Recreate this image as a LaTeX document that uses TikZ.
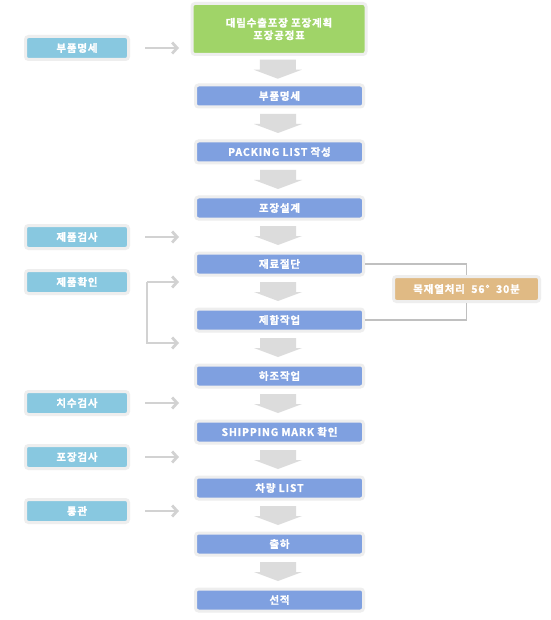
\documentclass[tikz,border=0pt]{standalone}
\usepackage{fontspec}
\setmainfont{Noto Sans CJK KR}
\newfontfamily\boxfont{Noto Sans CJK KR Bold}[LetterSpace=8, FakeBold=1.2]
\usepackage{tikz}
\usetikzlibrary{arrows.meta, calc}

\definecolor{stepblue}{HTML}{7FA0E0}
\definecolor{sideblue}{HTML}{88C8E0}
\definecolor{plangreen}{HTML}{A0D468}
\definecolor{heattan}{HTML}{E0BA84}
\definecolor{glowgray}{HTML}{EEEEEE}
\definecolor{linegray}{HTML}{C0C0C0}
\definecolor{feedgray}{HTML}{D2D2D2}
\definecolor{arrowgray}{HTML}{DCDCDC}

\tikzset{
  boxbase/.style={draw=glowgray, line width=3pt, rounded corners=3pt, text=white,
    font=\boxfont\fontsize{10.5}{12.5}\selectfont, inner sep=0pt, align=center},
  stepbox/.style={boxbase, fill=stepblue, minimum width=168pt, minimum height=22pt},
  checkbox/.style={boxbase, fill=sideblue, minimum width=103pt, minimum height=23pt},
  planbox/.style={boxbase, fill=plangreen, minimum width=174pt, minimum height=51pt},
  heatbox/.style={boxbase, fill=heattan, minimum width=146pt, minimum height=25pt},
  feed/.style={draw=feedgray, line width=2.8pt, -{Straight Barb[length=5pt, width=11pt]}},
  link/.style={draw=linegray, line width=1.5pt}
}

\begin{document}
\begin{tikzpicture}[x=1pt, y=-1pt]
  \useasboundingbox[fill=white] (0,0) rectangle (550,620);

  % Main flow
  \node[planbox]  (s0)  at (279,29)  {대림수출포장 포장계획\\포장공정표};
  \node[stepbox]  (s1)  at (279.5,96)  {부품명세};
  \node[stepbox]  (s2)  at (279.5,152) {PACKING LIST 작성};
  \node[stepbox]  (s3)  at (279.5,208) {포장설계};
  \node[stepbox]  (s4)  at (279.5,264) {재료절단};
  \node[stepbox]  (s5)  at (279.5,320) {제함작업};
  \node[stepbox]  (s6)  at (279.5,376) {하조작업};
  \node[stepbox]  (s7)  at (279.5,432) {SHIPPING MARK 확인};
  \node[stepbox]  (s8)  at (279.5,488) {차량 LIST};
  \node[stepbox]  (s9)  at (279.5,544) {출하};
  \node[stepbox]  (s10) at (279.5,600) {선적};

  % Block arrows between the steps
  \foreach \a/\b in {s0/s1, s1/s2, s2/s3, s3/s4, s4/s5, s5/s6, s6/s7, s7/s8, s8/s9, s9/s10} {
    \path ($(\a.south)!0.5!(\b.north)$) coordinate (m);
    \fill[arrowgray] ($(m)+(-19.5,-10)$) -- ++(36,0) -- ++(0,10) -- ++(6,0)
      -- ++(-24,9) -- ++(-24,-9) -- ++(6,0) -- cycle;
  }

  % Checks on the left
  \node[checkbox] (c1) at (77,48)  {부품명세};
  \node[checkbox] (c2) at (77,237) {제품검사};
  \node[checkbox] (c3) at (77,282) {제품확인};
  \node[checkbox] (c4) at (77,403) {치수검사};
  \node[checkbox] (c5) at (77,457) {포장검사};
  \node[checkbox] (c6) at (77,511) {통관};

  \coordinate (tipx) at (179,0);
  \foreach \c in {c1, c2, c4, c5, c6}
    \draw[feed] ([xshift=15pt]\c.east) -- (tipx |- \c);

  % Bracket from the product check
  \coordinate (bk) at ([xshift=17pt]c3.east);
  \coordinate (bkend) at (179,343);
  \draw[feed] (bk) -- (tipx |- bk);
  \draw[feed] (bk) |- (bkend);

  % Heat treatment on the right
  \node[heatbox] (heat) at (466.5,289) {목재열처리\ \ 56°\ \ 30분};
  \draw[link] (s4.east) -| (heat.north);
  \draw[link] (s5.east) -| (heat.south);
\end{tikzpicture}
\end{document}
